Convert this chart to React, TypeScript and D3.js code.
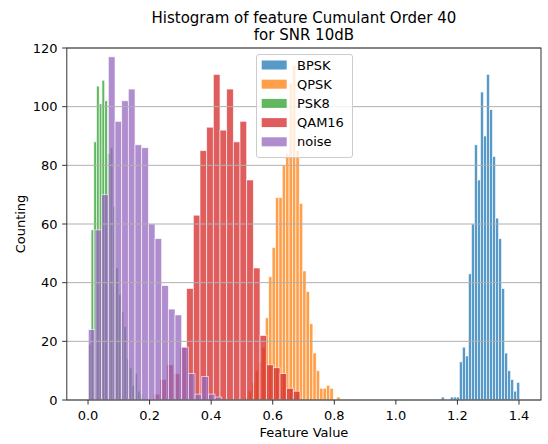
import React from "react";
import * as d3 from "d3";

// ---- Data ----
const categories = ["BPSK", "QPSK", "PSK8", "QAM16", "noise"];
const colors = ["#1f77b4", "#ff7f0e", "#2ca02c", "#d62728", "#9467bd"];

// each histogram: first bin edge, bin width, and counts per bin
const bpskBinStart = 1.1475;
const bpskBinWidth = 0.0098;
const bpskCounts = [1, 0, 0, 1, 1, 1, 13, 18, 15, 43, 60, 87, 75, 105, 90, 111, 99, 83, 62, 55, 38, 16, 10, 7, 3, 6];

const qpskBinStart = 0.5096;
const qpskBinWidth = 0.01104;
const qpskCounts = [1, 3, 6, 10, 13, 18, 28, 42, 52, 69, 69, 80, 84, 108, 114, 85, 67, 44, 37, 26, 16, 10, 4, 4, 5, 4, 0, 1];

const psk8BinStart = 0.001;
const psk8BinWidth = 0.00885;
const psk8Counts = [19, 58, 88, 107, 101, 109, 102, 84, 86, 66, 45, 36, 30, 25, 14, 11, 5, 9, 3, 2];

const qam16BinStart = 0.2121;
const qam16BinWidth = 0.02166;
const qam16Counts = [2, 7, 12, 9, 18, 38, 63, 85, 93, 111, 92, 106, 88, 95, 75, 45, 22, 12, 11, 9, 4, 3];

const noiseBinStart = 0.001;
const noiseBinWidth = 0.02166;
const noiseCounts = [24, 58, 70, 117, 95, 102, 106, 87, 86, 60, 55, 39, 31, 29, 18, 9, 2, 8, 2, 1];

const xTicks = [0, 0.2, 0.4, 0.6, 0.8, 1.0, 1.2, 1.4];
const yTicks = [0, 20, 40, 60, 80, 100, 120];
const xDomain = [-0.069, 1.4715];
const yDomain = [0, 120];

const titleLines = ["Histogram of feature Cumulant Order 40", "for SNR 10dB"];
const xLabel = "Feature Value";
const yLabel = "Counting";

// ---- Layout ----
const W = 548;
const H = 444;
const left = 66.8;
const right = 541;
const top = 48;
const bottom = 400;
const font = "'DejaVu Sans', sans-serif";

export default function App() {
  const x = d3.scaleLinear().domain(xDomain).range([left, right]);
  const y = d3.scaleLinear().domain(yDomain).range([bottom, top]);

  const series = [
    { start: bpskBinStart, width: bpskBinWidth, counts: bpskCounts },
    { start: qpskBinStart, width: qpskBinWidth, counts: qpskCounts },
    { start: psk8BinStart, width: psk8BinWidth, counts: psk8Counts },
    { start: qam16BinStart, width: qam16BinWidth, counts: qam16Counts },
    { start: noiseBinStart, width: noiseBinWidth, counts: noiseCounts },
  ];

  const tickLen = 4.6;
  const legendX = 256.5;
  const legendY = 54.5;
  const legendW = 96;
  const legendH = 103;
  const rowStep = 19.2;
  const row0 = 65;

  return (
    <div style={{ position: "absolute", left: 0, top: 0 }}>
      <svg width={W} height={H} style={{ display: "block", background: "#fff" }} fontFamily={font}>
        <rect x={0} y={0} width={W} height={H} fill="#fff" />
        {/* bars */}
        {series.map((s, i) => (
          <g key={categories[i]}>
            {s.counts.map((c, j) => {
              if (c <= 0) return null;
              const x0 = x(s.start + j * s.width);
              const x1 = x(s.start + (j + 1) * s.width);
              return (
                <rect
                  key={j}
                  x={x0}
                  y={y(c)}
                  width={x1 - x0}
                  height={y(0) - y(c)}
                  fill={colors[i]}
                  fillOpacity={0.75}
                  stroke="#fff"
                  strokeOpacity={0.75}
                  strokeWidth={0.8}
                />
              );
            })}
          </g>
        ))}
        {/* grid */}
        {yTicks.map((t) => (
          <line key={"g" + t} x1={left} x2={right} y1={y(t)} y2={y(t)} stroke="#b0b0b0" strokeWidth={1} />
        ))}
        {/* spines */}
        <rect x={left} y={top} width={right - left} height={bottom - top} fill="none" stroke="#333" strokeWidth={1} />
        {/* x ticks */}
        {xTicks.map((t) => (
          <g key={"x" + t}>
            <line x1={x(t)} x2={x(t)} y1={bottom} y2={bottom + tickLen} stroke="#333" strokeWidth={1} />
            <text x={x(t)} y={420} textAnchor="middle" fontSize={13} fill="#000">
              {t.toFixed(1)}
            </text>
          </g>
        ))}
        {/* y ticks */}
        {yTicks.map((t) => (
          <g key={"y" + t}>
            <line x1={left - tickLen} x2={left} y1={y(t)} y2={y(t)} stroke="#333" strokeWidth={1} />
            <text x={left - tickLen - 4.6} y={y(t)} dy="0.36em" textAnchor="end" fontSize={13} fill="#000">
              {t}
            </text>
          </g>
        ))}
        {/* axis labels */}
        <text x={(left + right) / 2} y={437} textAnchor="middle" fontSize={13} fill="#000">
          {xLabel}
        </text>
        <text
          transform={`translate(25,${(top + bottom) / 2}) rotate(-90)`}
          textAnchor="middle"
          fontSize={13}
          fill="#000"
        >
          {yLabel}
        </text>
        {/* title */}
        {titleLines.map((l, i) => (
          <text key={l} x={(left + right) / 2} y={22.5 + i * 17.5} textAnchor="middle" fontSize={15} fill="#000">
            {l}
          </text>
        ))}
        {/* legend */}
        <rect
          x={legendX}
          y={legendY}
          width={legendW}
          height={legendH}
          rx={2.5}
          fill="#fff"
          fillOpacity={0.8}
          stroke="#cccccc"
          strokeWidth={1}
        />
        {categories.map((c, i) => {
          const cy = row0 + i * rowStep;
          return (
            <g key={"l" + c}>
              <rect x={261.7} y={cy - 4.5} width={25} height={9} fill={colors[i]} fillOpacity={0.75} />
              <text x={297} y={cy} dy="0.36em" fontSize={13} fill="#000">
                {c}
              </text>
            </g>
          );
        })}
      </svg>
    </div>
  );
}
